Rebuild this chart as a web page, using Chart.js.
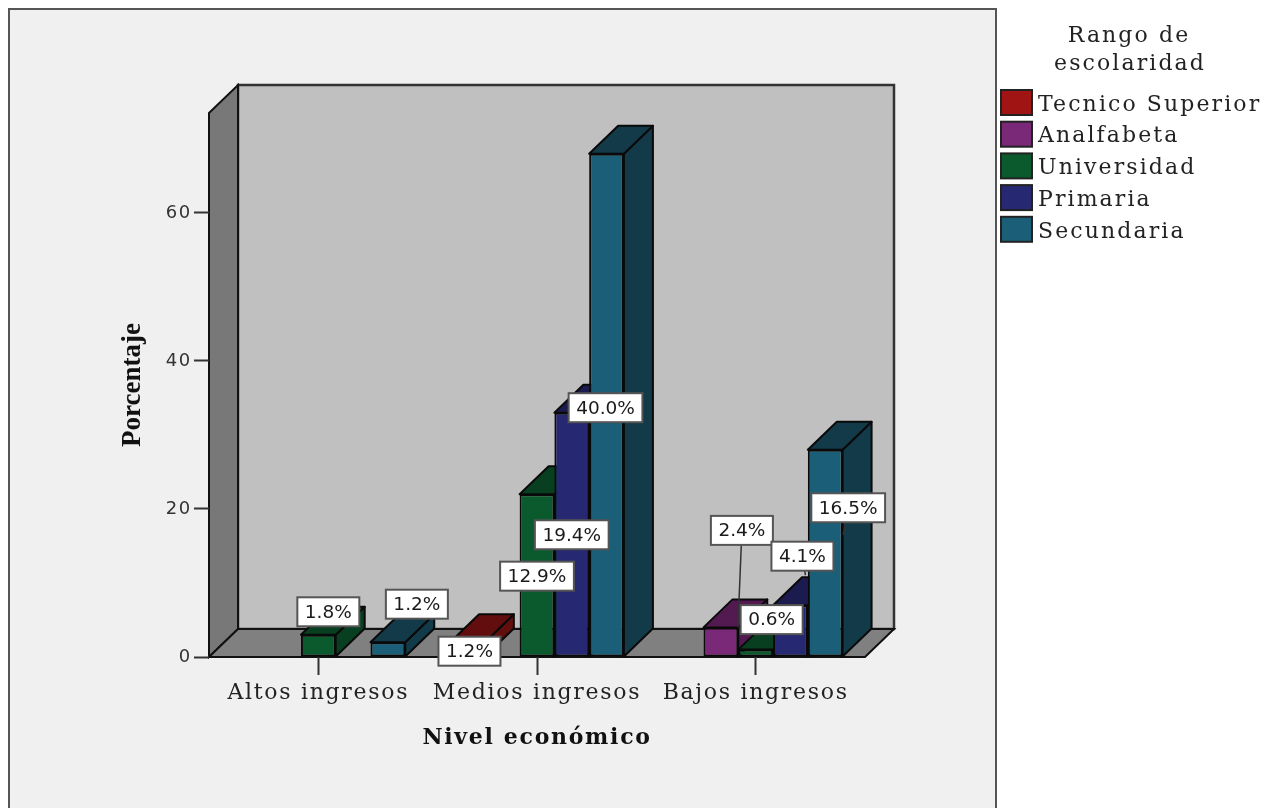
<!DOCTYPE html>
<html lang="es">
<head>
  <meta charset="UTF-8">
  <title>Nivel económico y escolaridad</title>
  <script src="https://cdn.jsdelivr.net/npm/chart.js"></script>
  <style>
    body { margin: 0; background: #fff; }
    canvas { display: block; }
  </style>
</head>
<body>
  <canvas id="barChart" width="1267" height="808"></canvas>

  <script>
    // Counts per group, n = 170. The percent labels are worked out from these.
    const categories = ["Altos ingresos", "Medios ingresos", "Bajos ingresos"];
    const seriesNames = ["Tecnico Superior", "Analfabeta", "Universidad", "Primaria", "Secundaria"];
    const tecnicoSuperior = [null, 2, null];
    const analfabeta = [null, null, 4];
    const universidad = [3, 22, 1];
    const primaria = [null, 33, 7];
    const secundaria = [2, 68, 28];
    const totalCases = 170;
    const yTicks = [0, 20, 40, 60];

    const frontColors = ["#a01414", "#7a2878", "#0b5a2e", "#272872", "#1a5e78"];
    const depthColors = ["#620e0e", "#521a50", "#083f20", "#1b1b50", "#123a48"];

    // Box centre relative to the top-middle of the bar, with optional leader line end
    const labelPlacements = [
      { series: 2, cat: 0, dx: 10, dy: -23 },
      { series: 4, cat: 0, dx: 29, dy: -38 },
      { series: 0, cat: 1, dx: 2, dy: 9 },
      { series: 2, cat: 1, dx: 0, dy: 82 },
      { series: 3, cat: 1, dx: 0, dy: 122 },
      { series: 4, cat: 1, dx: -1, dy: 254 },
      { series: 1, cat: 2, dx: 21, dy: -97, leader: [17, 0] },
      { series: 2, cat: 2, dx: 16, dy: -30 },
      { series: 3, cat: 2, dx: 12, dy: -49, leader: [15, -30] },
      { series: 4, cat: 2, dx: 23, dy: 58, leader: [18, 85] }
    ];

    const depthX = 29;
    const depthY = 28;
    const serifSpacing = "1.7px";

    const allSeries = [tecnicoSuperior, analfabeta, universidad, primaria, secundaria];

    function polygon(ctx, points, fill, stroke, width) {
      ctx.beginPath();
      points.forEach((p, i) => (i ? ctx.lineTo(p[0], p[1]) : ctx.moveTo(p[0], p[1])));
      ctx.closePath();
      ctx.fillStyle = fill;
      ctx.fill();
      ctx.strokeStyle = stroke;
      ctx.lineWidth = width;
      ctx.stroke();
    }

    // Grey panel plus the back wall, left wall and floor of the 3D box
    const boxPlugin = {
      id: "box",
      beforeDraw(chart) {
        const ctx = chart.ctx;
        const { left, right, top, bottom } = chart.chartArea;
        ctx.save();
        ctx.fillStyle = "#f0f0f0";
        ctx.fillRect(9, 9, 987, 810);
        ctx.strokeStyle = "#555";
        ctx.lineWidth = 2;
        ctx.strokeRect(9, 9, 987, 810);

        polygon(ctx, [[left + depthX, top - depthY], [right + depthX, top - depthY], [right + depthX, bottom - depthY], [left + depthX, bottom - depthY]], "#c0c0c0", "#333", 2.5);
        polygon(ctx, [[left, top], [left + depthX, top - depthY], [left + depthX, bottom - depthY], [left, bottom]], "#787878", "#111", 2);
        polygon(ctx, [[left, bottom], [left + depthX, bottom - depthY], [right + depthX, bottom - depthY], [right, bottom]], "#808080", "#111", 2);
        ctx.restore();
        // Axis text is spaced out a little wider than the fonts' defaults
        ctx.letterSpacing = serifSpacing;
      },
      // Side and top faces go on before the library paints the front faces
      beforeDatasetsDraw(chart) {
        const ctx = chart.ctx;
        const bars = [];
        chart.data.datasets.forEach((ds, s) => {
          chart.getDatasetMeta(s).data.forEach((el, c) => {
            if (ds.data[c] !== null) bars.push({ el, s });
          });
        });
        bars.sort((a, b) => a.el.x - b.el.x);
        ctx.save();
        ctx.lineJoin = "round";
        bars.forEach(({ el, s }) => {
          const x0 = el.x - el.width / 2;
          const x1 = el.x + el.width / 2;
          polygon(ctx, [[x1, el.y], [x1 + depthX, el.y - depthY], [x1 + depthX, el.base - depthY], [x1, el.base]], depthColors[s], "#0a0a0a", 2);
          polygon(ctx, [[x0, el.y], [x0 + depthX, el.y - depthY], [x1 + depthX, el.y - depthY], [x1, el.y]], depthColors[s], "#0a0a0a", 2);
        });
        ctx.restore();
      },
      afterDatasetsDraw(chart) {
        const ctx = chart.ctx;
        ctx.save();
        ctx.letterSpacing = "0px";
        ctx.font = "18.5px 'DejaVu Sans'";
        ctx.textAlign = "center";
        ctx.textBaseline = "middle";
        labelPlacements.forEach(p => {
          const el = chart.getDatasetMeta(p.series).data[p.cat];
          const value = allSeries[p.series][p.cat];
          const text = (value / totalCases * 100).toFixed(1) + "%";
          const cx = el.x + p.dx;
          const cy = el.y + p.dy;
          const w = ctx.measureText(text).width + 15;
          if (p.leader) {
            ctx.strokeStyle = "#333";
            ctx.lineWidth = 1.5;
            ctx.beginPath();
            ctx.moveTo(cx, cy);
            ctx.lineTo(el.x + p.leader[0], el.y + p.leader[1]);
            ctx.stroke();
          }
          ctx.fillStyle = "#fff";
          ctx.strokeStyle = "#555";
          ctx.lineWidth = 2;
          ctx.fillRect(cx - w / 2, cy - 14.5, w, 29);
          ctx.strokeRect(cx - w / 2, cy - 14.5, w, 29);
          ctx.fillStyle = "#1a1a1a";
          ctx.fillText(text, cx, cy + 1);
        });
        ctx.restore();
      },
      // Legend column at the right of the panel
      afterDraw(chart) {
        const ctx = chart.ctx;
        ctx.save();
        ctx.letterSpacing = "2.1px";
        ctx.font = "22px 'DejaVu Serif'";
        ctx.fillStyle = "#222";
        ctx.textAlign = "center";
        ctx.textBaseline = "middle";
        ctx.fillText("Rango de", 1129, 36);
        ctx.fillText("escolaridad", 1130, 64);
        ctx.textAlign = "left";
        seriesNames.forEach((name, i) => {
          const y = 90 + i * 31.7;
          ctx.fillStyle = frontColors[i];
          ctx.fillRect(1001, y, 31, 25);
          ctx.strokeStyle = "#222";
          ctx.lineWidth = 2;
          ctx.strokeRect(1001, y, 31, 25);
          ctx.fillStyle = "#222";
          ctx.fillText(name, 1038, y + 15);
        });
        ctx.restore();
      }
    };

    const ctx = document.getElementById("barChart").getContext("2d");

    new Chart(ctx, {
      type: "bar",
      data: {
        labels: categories,
        datasets: seriesNames.map((name, i) => ({
          label: name,
          data: allSeries[i],
          backgroundColor: frontColors[i],
          borderColor: "#0a0a0a",
          borderWidth: 2,
          borderSkipped: false,
          categoryPercentage: 0.795,
          barPercentage: 1
        }))
      },
      options: {
        responsive: false,
        animation: false,
        events: [],
        layout: { padding: { left: 113, right: 402, top: 113, bottom: 53 } },
        plugins: {
          legend: { display: false },
          tooltip: { enabled: false }
        },
        scales: {
          x: {
            grid: { offset: false, drawOnChartArea: false, tickLength: 18, tickWidth: 2, tickColor: "#333" },
            border: { display: false },
            ticks: { color: "#222", font: { family: "'DejaVu Serif'", size: 22 }, padding: 5, maxRotation: 0 },
            title: { display: true, text: "Nivel económico", color: "#111", font: { family: "'DejaVu Serif'", size: 22, weight: "bold" }, padding: 4 },
            afterFit(scale) { scale.height = 98; }
          },
          y: {
            min: 0,
            max: 73.5,
            afterBuildTicks(scale) { scale.ticks = yTicks.map(v => ({ value: v })); },
            grid: { drawOnChartArea: false, tickLength: 15, tickWidth: 2, tickColor: "#333" },
            border: { display: false },
            ticks: { color: "#333", font: { family: "'DejaVu Sans'", size: 18 }, padding: 2 },
            title: { display: true, text: "Porcentaje", color: "#111", font: { family: "'Liberation Serif'", size: 27, weight: "bold" }, padding: 4 },
            afterFit(scale) { scale.width = 96; },
            // This title keeps the font's normal spacing
            afterUpdate(scale) {
              const drawTitle = scale.drawTitle;
              scale.drawTitle = function () {
                this.ctx.letterSpacing = "0px";
                drawTitle.call(this);
                this.ctx.letterSpacing = serifSpacing;
              };
            }
          }
        }
      },
      plugins: [boxPlugin]
    });
  </script>
</body>
</html>
